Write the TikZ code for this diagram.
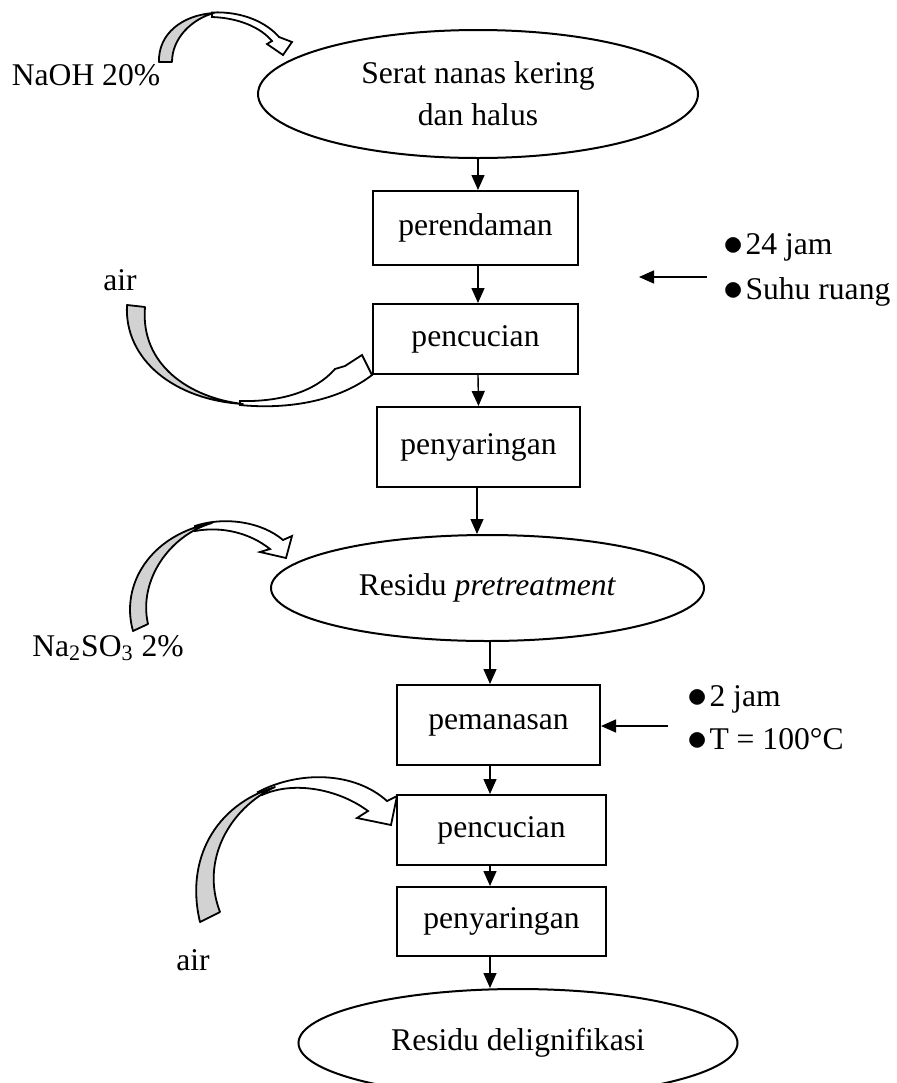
\documentclass[tikz,border=0pt]{standalone}
\usepackage{fontspec}
\setmainfont{Liberation Serif}
\usepackage{tikz}
\usetikzlibrary{arrows.meta,shapes.geometric,positioning}
\tikzstyle{arrow} = [line width=0.7pt,-{Triangle[length=7.5pt,width=6.5pt]}]
\tikzstyle{proc} = [draw, line width=1pt, rectangle, inner sep=0pt]
\tikzstyle{oval} = [draw, line width=1pt, ellipse, inner sep=0pt, align=center]
\tikzstyle{back} = [draw, line width=0.9pt, fill=gray!35, line join=round]
\tikzstyle{front} = [draw, line width=0.9pt, fill=white, line join=miter]
\newcommand{\butir}{\raisebox{-0.6pt}{\scalebox{1.4}{$\bullet$}}\hspace{1pt}}

\begin{document}
\begin{tikzpicture}[x=0.5pt, y=-0.5pt, font=\fontsize{15.8}{21}\selectfont]
\useasboundingbox (0,0) rectangle (896,1083);

% Main flow
\node[oval, minimum width=220pt, minimum height=64pt] (start) at (478,94) {Serat nanas kering\\dan halus};
\node[proc, minimum width=102.5pt, minimum height=37pt] (rendam) at (475.5,228) {perendaman};
\node[proc, minimum width=102.5pt, minimum height=35pt] (cuci1) at (475.5,339) {pencucian};
\node[proc, minimum width=101.5pt, minimum height=40pt] (saring1) at (478.5,447) {penyaringan};
\node[oval, minimum width=216.5pt, minimum height=53pt] (pretreat) at (487.5,588) {Residu \textit{pretreatment}};
\node[proc, minimum width=101.5pt, minimum height=40pt] (panas) at (498.5,725) {pemanasan};
\node[proc, minimum width=104.5pt, minimum height=35pt] (cuci2) at (501.5,830) {pencucian};
\node[proc, minimum width=104.5pt, minimum height=34.5pt] (saring2) at (501.5,921.5) {penyaringan};
\node[oval, minimum width=219.5pt, minimum height=54pt] (delig) at (518,1043) {Residu delignifikasi};

\draw[arrow] (start) -- (start |- rendam.north);
\draw[arrow] ([xshift=1.25pt]rendam.south) -- ([xshift=1.25pt]cuci1.north);
\draw[arrow] ([xshift=1.25pt]cuci1.south) -- ([xshift=0pt]saring1.north);
\draw[arrow] ([xshift=-0.75pt]saring1.south) -- ([xshift=-5.25pt]pretreat.north);
\draw[arrow] ([xshift=1.25pt]pretreat.south) -- ([xshift=-4.25pt]panas.north);
\draw[arrow] ([xshift=-4.25pt]panas.south) -- ([xshift=-5.75pt]cuci2.north);
\draw[arrow] ([xshift=-5.75pt]cuci2.south) -- ([xshift=-5.75pt]saring2.north);
\draw[arrow] ([xshift=-5.75pt]saring2.south) -- ([xshift=-14pt]delig.north);

% Conditions
\node[anchor=west, align=left, inner sep=0pt, font=\fontsize{15.8}{22.5}\selectfont] (kond1) at (723,270) {\butir 24 jam\\\butir Suhu ruang};
\coordinate (k1a) at (707,277);
\coordinate (k1b) at (639,277);
\draw[arrow] (k1a) -- (k1b);

\node[anchor=west, align=left, inner sep=0pt, font=\fontsize{15.8}{21.5}\selectfont] (kond2) at (687,718) {\butir 2 jam\\\butir T = 100°C};
\coordinate (k2a) at (668,726);
\draw[arrow] (k2a) -- (panas.east |- k2a);

% Inputs
\node (naoh) at (86,75) {NaOH 20\%};
\node (air1) at (120,280) {air};
\node (sulfit) at (108,648) {Na\textsubscript{2}SO\textsubscript{3} 2\%};
\node (air2) at (193,960) {air};

% curved arrow NaOH
\draw[front] (212,12.5) .. controls (243,11) and (267,23) .. (279,37) -- (292,42) -- (283,55) -- (267,44) -- (272,41) .. controls (261,28) and (240,18) .. (212,17) -- cycle;
\draw[back] (159,62) .. controls (158,34) and (182,15) .. (214,13) .. controls (192,19) and (172,38) .. (172,62) -- cycle;

% curved arrow air (atas)
\draw[front] (240,401) .. controls (280,402) and (315,392) .. (335,369) -- (345,366) -- (362,355) -- (372,375) .. controls (340,400) and (290,410) .. (240,405) -- cycle;
\draw[back] (127,305) .. controls (124,360) and (175,400) .. (243,404) .. controls (190,398) and (140,365) .. (145,307) -- cycle;

% curved arrow Na2SO3
\draw[front] (195,526) .. controls (225,516) and (262,522) .. (283,540) -- (292,536) -- (286,558) -- (260,552) -- (270,549) .. controls (250,533) and (222,526) .. (195,531) -- cycle;
\draw[back] (133,631) .. controls (120,585) and (150,535) .. (212,523) .. controls (170,535) and (138,580) .. (148,624) -- cycle;

% curved arrow air (bawah)
\draw[front] (258,792) .. controls (300,770) and (355,772) .. (387,801) -- (397,796) -- (391,825) -- (357,818) -- (368,811) .. controls (340,790) and (295,780) .. (262,795) -- cycle;
\draw[back] (200,922) .. controls (185,860) and (215,805) .. (275,787) .. controls (230,808) and (200,860) .. (220,912) -- cycle;
\end{tikzpicture}
\end{document}
